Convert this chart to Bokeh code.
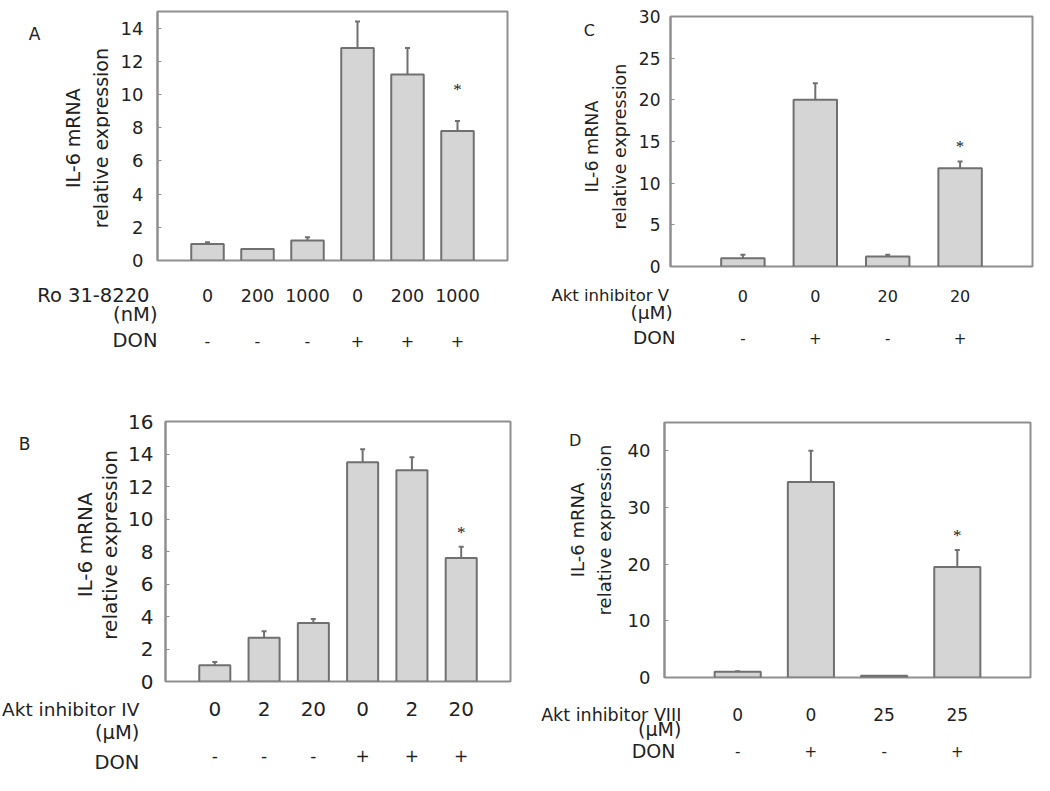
import math
from bokeh.plotting import figure
from bokeh.models import (ColumnDataSource, Range1d, FixedTicker, LabelSet,
                          Whisker, TeeHead)
from bokeh.core.properties import value
from bokeh.layouts import column, row
from bokeh.embed import file_html
from bokeh.resources import INLINE

# ---------------- data ----------------
A_doses = ["0", "200", "1000", "0", "200", "1000"]
A_don = ["-", "-", "-", "+", "+", "+"]
A_vals = [1.0, 0.7, 1.2, 12.8, 11.2, 7.8]
A_err = [0.1, 0.0, 0.2, 1.6, 1.6, 0.6]
A_star = [None, None, None, None, None, 10.3]
A_ticks = [0, 2, 4, 6, 8, 10, 12, 14]

B_doses = ["0", "2", "20", "0", "2", "20"]
B_don = ["-", "-", "-", "+", "+", "+"]
B_vals = [1.0, 2.7, 3.6, 13.5, 13.0, 7.6]
B_err = [0.2, 0.4, 0.25, 0.8, 0.8, 0.7]
B_star = [None, None, None, None, None, 9.2]
B_ticks = [0, 2, 4, 6, 8, 10, 12, 14, 16]

C_doses = ["0", "0", "20", "20"]
C_don = ["-", "+", "-", "+"]
C_vals = [1.0, 20.0, 1.2, 11.8]
C_err = [0.4, 2.0, 0.2, 0.8]
C_star = [None, None, None, 14.4]
C_ticks = [0, 5, 10, 15, 20, 25, 30]

D_doses = ["0", "0", "25", "25"]
D_don = ["-", "+", "-", "+"]
D_vals = [1.0, 34.5, 0.3, 19.5]
D_err = [0.1, 5.5, 0.0, 3.0]
D_star = [None, None, None, 25.0]
D_ticks = [0, 10, 20, 30, 40]

FONT = "DejaVu Sans"
TXT = "#222222"
EDGE = "#707070"
FILL = "#d5d5d5"
BOX = "#8f8f8f"


def strip(w, h, xr, yr):
    s = figure(width=w, height=h, x_range=Range1d(*xr), y_range=Range1d(*yr),
               min_border=0, x_axis_location=None, y_axis_location=None,
               output_backend="svg", toolbar_location=None)
    s.outline_line_color = None
    s.grid.visible = False
    return s


def txt(p, x, y, t, size, align="center", angle=0.0):
    p.text(x=x, y=y, text=t, text_align=align, text_baseline="middle",
           angle=angle, text_font=value(FONT), text_font_size=f"{size}px",
           text_color=TXT)


def panel(letter, inhibitor, unit, doses, don, vals, err, star, ticks, ymax,
          geom, bar_w, lay, fs):
    W, H, box_l, box_t, fw, fh, mleft, mbot = geom
    n = len(vals)
    xs = list(range(1, n + 1))
    ppx = fw / (n + 1)
    ppy = fh / ymax

    def dx(px):
        return (px - box_l) / ppx

    def dy(py):
        return (box_t + fh - py) / ppy

    Lw = box_l - mleft
    Hm = box_t + fh + mbot

    # main chart
    p = figure(frame_width=fw, frame_height=fh, min_border_left=mleft,
               min_border_top=box_t, min_border_right=W - box_l - fw,
               min_border_bottom=mbot, x_range=Range1d(0, n + 1),
               y_range=Range1d(0, ymax), x_axis_location=None,
               output_backend="svg", toolbar_location=None)
    p.grid.visible = False
    p.outline_line_color = BOX
    p.outline_line_width = 2
    ax = p.yaxis[0]
    ax.ticker = FixedTicker(ticks=ticks)
    ax.axis_line_color = BOX
    ax.axis_line_width = 2
    ax.major_tick_in = 4
    ax.major_tick_out = 0
    ax.major_tick_line_color = BOX
    ax.minor_tick_line_color = None
    ax.major_label_standoff = lay["standoff"]
    ax.major_label_text_font = FONT
    ax.major_label_text_font_size = f"{fs['ytick']}px"
    ax.major_label_text_color = TXT

    src = ColumnDataSource(dict(x=xs, top=vals))
    p.vbar(x="x", top="top", width=bar_w, bottom=0, source=src,
           fill_color=FILL, line_color=EDGE, line_width=2)

    ex = [x for x, e in zip(xs, err) if e > 0]
    elo = [v for v, e in zip(vals, err) if e > 0]
    ehi = [v + e for v, e in zip(vals, err) if e > 0]
    esrc = ColumnDataSource(dict(base=ex, lower=elo, upper=ehi))
    p.add_layout(Whisker(source=esrc, base="base", lower="lower", upper="upper",
                         dimension="height", line_color=EDGE, line_width=2,
                         upper_head=TeeHead(size=5, line_color=EDGE, line_width=2),
                         lower_head=None))

    sx = [x for x, s in zip(xs, star) if s is not None]
    sy = [s for s in star if s is not None]
    p.add_layout(LabelSet(source=ColumnDataSource(dict(x=sx, y=sy, t=["*"] * len(sx))),
                          x="x", y="y", text="t", text_align="center",
                          text_baseline="middle", text_font=FONT,
                          text_font_size="17px", text_color=TXT, y_offset=0))

    # left strip: panel letter + y-axis title
    left = strip(Lw, Hm, (dx(0), dx(Lw)), (dy(Hm), dy(0)))
    txt(left, [lay["let_x"]], [lay["let_y"]], [letter], fs["letter"])
    txt(left, [lay["yl1_x"], lay["yl2_x"]], [lay["yl_y"]] * 2,
        ["IL-6 mRNA", "relative expression"], fs["ylab"], angle=math.pi / 2)

    # bottom strip: treatment table
    bot = strip(W, H - Hm, (dx(0), dx(W)), (dy(H), dy(Hm)))
    txt(bot, xs, [lay["dose_y"]] * n, doses, fs["cat"])
    txt(bot, xs, [lay["don_y"]] * n, don, fs["sign"])
    txt(bot, [lay["row_x"]], [lay["dose_y"]], [inhibitor], fs["row"], align="right")
    txt(bot, [lay["unit_x"]], [lay["unit_y"]], [unit], fs["row2"], align="right")
    txt(bot, [lay["donlab_x"]], [lay["donlab_y"]], ["DON"], fs["row2"], align="right")

    return column(row(left, p), bot)


pA = panel("A", "Ro 31-8220", "(nM)", A_doses, A_don, A_vals, A_err, A_star, A_ticks, 15,
           (540, 400, 157, 11, 350, 249, 47, 13), 0.65,
           dict(standoff=14, dose_y=-2.11, unit_y=-3.25, don_y=-4.82, donlab_y=-4.82,
                row_x=-0.16, unit_x=0.0, donlab_x=0.0, let_x=-2.46, let_y=14.2,
                yl1_x=-1.7, yl2_x=-1.14, yl_y=7.3),
           dict(ytick=18, cat=17.5, sign=16, row=19.5, row2=19.5, letter=17, ylab=19))

pC = panel("C", "Akt inhibitor V", "(\u00b5M)", C_doses, C_don, C_vals, C_err, C_star, C_ticks, 30,
           (494, 400, 130, 16, 362, 250, 38, 13), 0.6,
           dict(standoff=10, dose_y=-3.48, unit_y=-5.52, don_y=-8.52, donlab_y=-8.52,
                row_x=-0.02, unit_x=0.03, donlab_x=0.07, let_x=-1.12, let_y=30.1,
                yl1_x=-1.08, yl2_x=-0.70, yl_y=14.5),
           dict(ytick=17, cat=16, sign=15, row=16.5, row2=18.5, letter=16, ylab=17.5))

pB = panel("B", "Akt inhibitor IV", "(\u00b5M)", B_doses, B_don, B_vals, B_err, B_star, B_ticks, 16,
           (540, 375, 165, 21, 345, 260, 42, 14), 0.63,
           dict(standoff=12, dose_y=-1.72, unit_y=-3.14, don_y=-4.55, donlab_y=-4.98,
                row_x=-0.53, unit_x=-0.53, donlab_x=-0.53, let_x=-2.86, let_y=15.75,
                yl1_x=-1.64, yl2_x=-1.12, yl_y=8.68),
           dict(ytick=20, cat=20, sign=17, row=18.5, row2=19.5, letter=17, ylab=20))

pD = panel("D", "Akt inhibitor VIII", "(\u00b5M)", D_doses, D_don, D_vals, D_err, D_star, D_ticks, 45,
           (494, 375, 124, 22, 366, 255, 42, 13), 0.63,
           dict(standoff=14, dose_y=-6.53, unit_y=-9.17, don_y=-12.9, donlab_y=-12.9,
                row_x=0.23, unit_x=0.23, donlab_x=0.15, let_x=-1.22, let_y=45.3,
                yl1_x=-1.19, yl2_x=-0.82, yl_y=27.3),
           dict(ytick=18, cat=17, sign=15, row=17.5, row2=19, letter=16, ylab=18))

layout = column(row(pA, pC), row(pB, pD))
open("out.html", "w").write(file_html(layout, INLINE))
